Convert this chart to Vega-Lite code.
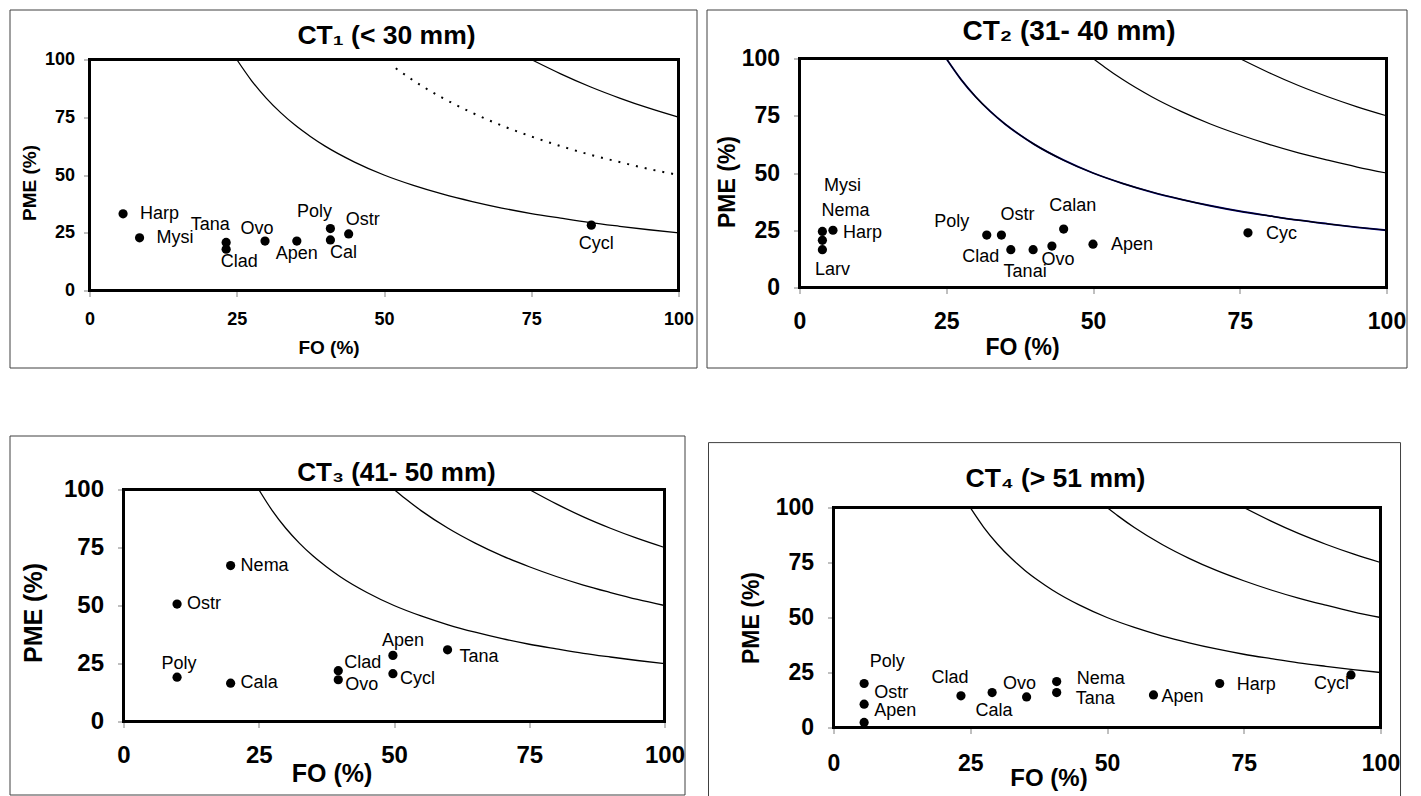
{
  "$schema": "https://vega.github.io/schema/vega-lite/v6.json",
  "background": "white",
  "padding": {"left": 8.5, "top": 8.5, "right": 0, "bottom": 0},
  "autosize": {"type": "pad"},
  "datasets": {
    "iso": [
      {"k": 2500, "fo": 25, "pme": 100}, {"k": 2500, "fo": 27.5, "pme": 90.9}, {"k": 2500, "fo": 30, "pme": 83.3},
      {"k": 2500, "fo": 32.5, "pme": 76.9}, {"k": 2500, "fo": 35, "pme": 71.4}, {"k": 2500, "fo": 37.5, "pme": 66.7},
      {"k": 2500, "fo": 40, "pme": 62.5}, {"k": 2500, "fo": 45, "pme": 55.6}, {"k": 2500, "fo": 50, "pme": 50},
      {"k": 2500, "fo": 55, "pme": 45.5}, {"k": 2500, "fo": 60, "pme": 41.7}, {"k": 2500, "fo": 65, "pme": 38.5},
      {"k": 2500, "fo": 70, "pme": 35.7}, {"k": 2500, "fo": 75, "pme": 33.3}, {"k": 2500, "fo": 80, "pme": 31.3},
      {"k": 2500, "fo": 85, "pme": 29.4}, {"k": 2500, "fo": 90, "pme": 27.8}, {"k": 2500, "fo": 95, "pme": 26.3},
      {"k": 2500, "fo": 100, "pme": 25},
      {"k": 5000, "fo": 50, "pme": 100}, {"k": 5000, "fo": 52, "pme": 96.2}, {"k": 5000, "fo": 55, "pme": 90.9},
      {"k": 5000, "fo": 60, "pme": 83.3}, {"k": 5000, "fo": 65, "pme": 76.9}, {"k": 5000, "fo": 70, "pme": 71.4},
      {"k": 5000, "fo": 75, "pme": 66.7}, {"k": 5000, "fo": 80, "pme": 62.5}, {"k": 5000, "fo": 85, "pme": 58.8},
      {"k": 5000, "fo": 90, "pme": 55.6}, {"k": 5000, "fo": 95, "pme": 52.6}, {"k": 5000, "fo": 100, "pme": 50},
      {"k": 7500, "fo": 75, "pme": 100}, {"k": 7500, "fo": 80, "pme": 93.8}, {"k": 7500, "fo": 85, "pme": 88.2},
      {"k": 7500, "fo": 90, "pme": 83.3}, {"k": 7500, "fo": 95, "pme": 78.9}, {"k": 7500, "fo": 100, "pme": 75}
    ],
    "ct1": [
      {"t": "Harp", "fo": 5.7, "pme": 33.2}, {"t": "Mysi", "fo": 8.5, "pme": 22.8},
      {"t": "Tana", "fo": 23.2, "pme": 20.8}, {"t": "Clad", "fo": 23.2, "pme": 17.9},
      {"t": "Ovo", "fo": 29.8, "pme": 21.4}, {"t": "Apen", "fo": 35.2, "pme": 21.4},
      {"t": "Poly", "fo": 40.9, "pme": 26.8}, {"t": "Cal", "fo": 40.9, "pme": 21.9},
      {"t": "Ostr", "fo": 44.0, "pme": 24.5}, {"t": "Cycl", "fo": 85.2, "pme": 28.3}
    ],
    "ct2": [
      {"t": "Mysi", "fo": 3.9, "pme": 24.5}, {"t": "Nema", "fo": 3.9, "pme": 20.6},
      {"t": "Larv", "fo": 3.9, "pme": 16.5}, {"t": "Harp", "fo": 5.7, "pme": 25.0},
      {"t": "Poly", "fo": 31.9, "pme": 22.9}, {"t": "Ostr", "fo": 34.4, "pme": 22.9},
      {"t": "Clad", "fo": 36.0, "pme": 16.5}, {"t": "Tanai", "fo": 39.8, "pme": 16.5},
      {"t": "Ovo", "fo": 43.0, "pme": 18.1}, {"t": "Calan", "fo": 45.0, "pme": 25.5},
      {"t": "Apen", "fo": 50.0, "pme": 18.9}, {"t": "Cyc", "fo": 76.4, "pme": 23.9}
    ],
    "ct3": [
      {"t": "Nema", "fo": 19.8, "pme": 67.2}, {"t": "Ostr", "fo": 9.9, "pme": 50.6},
      {"t": "Poly", "fo": 9.9, "pme": 19.1}, {"t": "Cala", "fo": 19.8, "pme": 16.5},
      {"t": "Clad", "fo": 39.7, "pme": 21.9}, {"t": "Ovo", "fo": 39.7, "pme": 18.0},
      {"t": "Apen", "fo": 49.8, "pme": 28.5}, {"t": "Cycl", "fo": 49.8, "pme": 20.6},
      {"t": "Tana", "fo": 59.9, "pme": 30.9}
    ],
    "ct4": [
      {"t": "Poly", "fo": 5.6, "pme": 20.0}, {"t": "Ostr", "fo": 5.6, "pme": 10.6},
      {"t": "Apen", "fo": 5.6, "pme": 2.3}, {"t": "Clad", "fo": 23.3, "pme": 14.4},
      {"t": "Cala", "fo": 29.0, "pme": 15.9}, {"t": "Ovo", "fo": 35.3, "pme": 13.9},
      {"t": "Nema", "fo": 40.8, "pme": 20.9}, {"t": "Tana", "fo": 40.8, "pme": 15.9},
      {"t": "Apen", "fo": 58.5, "pme": 14.8}, {"t": "Harp", "fo": 70.6, "pme": 20.0},
      {"t": "Cycl", "fo": 94.6, "pme": 23.9}
    ]
  },
  "spacing": 66,
  "vconcat": [
    {
      "spacing": 8,
      "hconcat": [
        {
          "width": 687, "height": 358,
          "title": {"text": "CT₁ (< 30 mm)", "fontSize": 26.5, "dx": 33.5, "offset": -40},
          "layer": [
            {
              "encoding": {
                "x": {"field": "fo", "type": "quantitative", "scale": {"domain": [0, 100], "range": [80, 669], "nice": false, "zero": false},
                      "axis": {"title": "FO (%)", "offset": -77, "values": [0, 25, 50, 75, 100], "labelFontSize": 18, "labelPadding": 14, "titleFontSize": 19, "titleX": 319, "titleY": 57}},
                "y": {"field": "pme", "type": "quantitative", "scale": {"domain": [0, 100], "range": [281, 50], "nice": false, "zero": false},
                      "axis": {"title": "PME (%)", "offset": -80, "values": [0, 25, 50, 75, 100], "labelFontSize": 18, "labelPadding": 9, "titleFontSize": 19, "titleX": -60, "titleY": 173, "titleAngle": -90}}
              },
              "layer": [
                {"data": {"name": "iso"}, "transform": [{"filter": "datum.k != 5000"}],
                 "mark": {"type": "line", "color": "black", "strokeWidth": 1.3, "interpolate": "monotone"}, "encoding": {"detail": {"field": "k"}}},
                {"data": {"name": "iso"}, "transform": [{"filter": "datum.k == 5000 && datum.fo >= 52"}],
                 "mark": {"type": "line", "color": "black", "strokeWidth": 2, "strokeDash": [2, 7], "interpolate": "monotone"}, "encoding": {"detail": {"field": "k"}}},
                {"data": {"name": "ct1"}, "layer": [
                  {"mark": {"type": "circle", "size": 85, "color": "black", "opacity": 1}},
                  {"transform": [{"filter": {"field": "t", "oneOf": ["Harp", "Mysi"]}}], "mark": {"type": "text", "align": "left", "dx": 17, "dy": 0}, "encoding": {"text": {"field": "t"}}},
                  {"transform": [{"filter": {"field": "t", "oneOf": ["Tana", "Poly"]}}], "mark": {"type": "text", "align": "center", "dx": -16, "dy": -17}, "encoding": {"text": {"field": "t"}}},
                  {"transform": [{"filter": {"field": "t", "oneOf": ["Clad", "Cal"]}}], "mark": {"type": "text", "align": "center", "dx": 13, "dy": 13}, "encoding": {"text": {"field": "t"}}},
                  {"transform": [{"filter": {"field": "t", "oneOf": ["Ostr"]}}], "mark": {"type": "text", "align": "center", "dx": 14, "dy": -14}, "encoding": {"text": {"field": "t"}}},
                  {"transform": [{"filter": {"field": "t", "oneOf": ["Ovo"]}}], "mark": {"type": "text", "align": "center", "dx": -8, "dy": -12}, "encoding": {"text": {"field": "t"}}},
                  {"transform": [{"filter": {"field": "t", "oneOf": ["Apen"]}}], "mark": {"type": "text", "align": "center", "dx": 0, "dy": 13}, "encoding": {"text": {"field": "t"}}},
                  {"transform": [{"filter": {"field": "t", "oneOf": ["Cycl"]}}], "mark": {"type": "text", "align": "center", "dx": 5, "dy": 19}, "encoding": {"text": {"field": "t"}}}
                ]}
              ]
            },
            {"data": {"values": [{}]}, "mark": {"type": "rect", "fill": "transparent", "stroke": "black", "strokeWidth": 3},
             "encoding": {"x": {"datum": 0}, "x2": {"datum": 100}, "y": {"datum": 0}, "y2": {"datum": 100}}}
          ]
        },
        {
          "width": 700, "height": 358,
          "title": {"text": "CT₂ (31- 40 mm)", "fontSize": 28, "dx": 12.5, "offset": -36.3},
          "layer": [
            {
              "encoding": {
                "x": {"field": "fo", "type": "quantitative", "scale": {"domain": [0, 100], "range": [93, 680], "nice": false, "zero": false},
                      "axis": {"title": "FO (%)", "offset": -80, "values": [0, 25, 50, 75, 100], "labelFontSize": 23, "labelPadding": 17, "titleFontSize": 23, "titleX": 315.5, "titleY": 60}},
                "y": {"field": "pme", "type": "quantitative", "scale": {"domain": [0, 100], "range": [278, 49], "nice": false, "zero": false},
                      "axis": {"title": "PME (%)", "offset": -93, "values": [0, 25, 50, 75, 100], "labelFontSize": 23, "labelPadding": 14, "titleFontSize": 23, "titleX": -72, "titleY": 172, "titleAngle": -90}}
              },
              "layer": [
                {"data": {"name": "iso"}, "transform": [{"filter": "datum.k == 2500"}],
                 "mark": {"type": "line", "color": "#000080", "strokeWidth": 1.8, "interpolate": "monotone"}, "encoding": {"detail": {"field": "k"}}},
                {"data": {"name": "iso"},
                 "mark": {"type": "line", "color": "black", "strokeWidth": 1.2, "interpolate": "monotone"}, "encoding": {"detail": {"field": "k"}}},
                {"data": {"name": "ct2"}, "layer": [
                  {"mark": {"type": "circle", "size": 85, "color": "black", "opacity": 1}},
                  {"transform": [{"filter": {"field": "t", "oneOf": ["Mysi"]}}], "mark": {"type": "text", "align": "center", "dx": 20, "dy": -45}, "encoding": {"text": {"field": "t"}}},
                  {"transform": [{"filter": {"field": "t", "oneOf": ["Nema"]}}], "mark": {"type": "text", "align": "center", "dx": 23, "dy": -29}, "encoding": {"text": {"field": "t"}}},
                  {"transform": [{"filter": {"field": "t", "oneOf": ["Harp"]}}], "mark": {"type": "text", "align": "left", "dx": 10, "dy": 3}, "encoding": {"text": {"field": "t"}}},
                  {"transform": [{"filter": {"field": "t", "oneOf": ["Larv"]}}], "mark": {"type": "text", "align": "center", "dx": 10, "dy": 20}, "encoding": {"text": {"field": "t"}}},
                  {"transform": [{"filter": {"field": "t", "oneOf": ["Poly"]}}], "mark": {"type": "text", "align": "center", "dx": -35, "dy": -13}, "encoding": {"text": {"field": "t"}}},
                  {"transform": [{"filter": {"field": "t", "oneOf": ["Ostr"]}}], "mark": {"type": "text", "align": "center", "dx": 16, "dy": -20}, "encoding": {"text": {"field": "t"}}},
                  {"transform": [{"filter": {"field": "t", "oneOf": ["Calan"]}}], "mark": {"type": "text", "align": "center", "dx": 9, "dy": -23}, "encoding": {"text": {"field": "t"}}},
                  {"transform": [{"filter": {"field": "t", "oneOf": ["Clad"]}}], "mark": {"type": "text", "align": "center", "dx": -30, "dy": 7}, "encoding": {"text": {"field": "t"}}},
                  {"transform": [{"filter": {"field": "t", "oneOf": ["Tanai"]}}], "mark": {"type": "text", "align": "center", "dx": -8, "dy": 22}, "encoding": {"text": {"field": "t"}}},
                  {"transform": [{"filter": {"field": "t", "oneOf": ["Ovo"]}}], "mark": {"type": "text", "align": "center", "dx": 6, "dy": 14}, "encoding": {"text": {"field": "t"}}},
                  {"transform": [{"filter": {"field": "t", "oneOf": ["Apen", "Cyc"]}}], "mark": {"type": "text", "align": "left", "dx": 18, "dy": 1}, "encoding": {"text": {"field": "t"}}}
                ]}
              ]
            },
            {"data": {"values": [{}]}, "mark": {"type": "rect", "fill": "transparent", "stroke": "black", "strokeWidth": 3},
             "encoding": {"x": {"datum": 0}, "x2": {"datum": 100}, "y": {"datum": 0}, "y2": {"datum": 100}}}
          ]
        }
      ]
    },
    {
      "spacing": 22,
      "hconcat": [
        {
          "width": 675, "height": 359,
          "title": {"text": "CT₃ (41- 50 mm)", "fontSize": 26, "dx": 49.5, "offset": -50},
          "layer": [
            {
              "encoding": {
                "x": {"field": "fo", "type": "quantitative", "scale": {"domain": [0, 100], "range": [114, 655], "nice": false, "zero": false},
                      "axis": {"title": "FO (%)", "offset": -73, "values": [0, 25, 50, 75, 100], "labelFontSize": 24, "labelPadding": 15.5, "titleFontSize": 25, "titleX": 322, "titleY": 52}},
                "y": {"field": "pme", "type": "quantitative", "scale": {"domain": [0, 100], "range": [286, 54], "nice": false, "zero": false},
                      "axis": {"title": "PME (%)", "offset": -114, "values": [0, 25, 50, 75, 100], "labelFontSize": 24, "labelPadding": 14, "titleFontSize": 25, "titleX": -90, "titleY": 177, "titleAngle": -90}}
              },
              "layer": [
                {"data": {"name": "iso"},
                 "mark": {"type": "line", "color": "black", "strokeWidth": 1.3, "interpolate": "monotone"}, "encoding": {"detail": {"field": "k"}}},
                {"data": {"name": "ct3"}, "layer": [
                  {"mark": {"type": "circle", "size": 85, "color": "black", "opacity": 1}},
                  {"transform": [{"filter": {"field": "t", "oneOf": ["Nema", "Ostr", "Cala"]}}], "mark": {"type": "text", "align": "left", "dx": 10, "dy": 0}, "encoding": {"text": {"field": "t"}}},
                  {"transform": [{"filter": {"field": "t", "oneOf": ["Poly"]}}], "mark": {"type": "text", "align": "center", "dx": 2, "dy": -13}, "encoding": {"text": {"field": "t"}}},
                  {"transform": [{"filter": {"field": "t", "oneOf": ["Apen"]}}], "mark": {"type": "text", "align": "center", "dx": 10, "dy": -14}, "encoding": {"text": {"field": "t"}}},
                  {"transform": [{"filter": {"field": "t", "oneOf": ["Clad"]}}], "mark": {"type": "text", "align": "left", "dx": 6, "dy": -8}, "encoding": {"text": {"field": "t"}}},
                  {"transform": [{"filter": {"field": "t", "oneOf": ["Ovo", "Cycl"]}}], "mark": {"type": "text", "align": "left", "dx": 7, "dy": 5}, "encoding": {"text": {"field": "t"}}},
                  {"transform": [{"filter": {"field": "t", "oneOf": ["Tana"]}}], "mark": {"type": "text", "align": "left", "dx": 12, "dy": 7}, "encoding": {"text": {"field": "t"}}}
                ]}
              ]
            },
            {"data": {"values": [{}]}, "mark": {"type": "rect", "fill": "transparent", "stroke": "black", "strokeWidth": 3},
             "encoding": {"x": {"datum": 0}, "x2": {"datum": 100}, "y": {"datum": 0}, "y2": {"datum": 100}}}
          ]
        },
        {
          "width": 692, "height": 362,
          "view": {"stroke": null},
          "title": {"text": "CT₄ (> 51 mm)", "fontSize": 26.5, "dx": 1, "offset": -56.5},
          "layer": [
            {"data": {"values": [{}]}, "mark": {"type": "rect", "fill": "transparent", "stroke": "#404040", "strokeWidth": 1},
             "encoding": {"x": {"datum": -22.85}, "x2": {"datum": 103.66}, "y": {"datum": 129.5}, "y2": {"datum": -31.8}}},
            {
              "encoding": {
                "x": {"field": "fo", "type": "quantitative", "scale": {"domain": [0, 100], "range": [125, 672], "nice": false, "zero": false},
                      "axis": {"title": "FO (%)", "offset": -70, "values": [0, 25, 50, 75, 100], "labelFontSize": 23, "labelPadding": 19, "titleFontSize": 24, "titleX": 340, "titleY": 51}},
                "y": {"field": "pme", "type": "quantitative", "scale": {"domain": [0, 100], "range": [292, 72], "nice": false, "zero": false},
                      "axis": {"title": "PME (%)", "offset": -125, "values": [0, 25, 50, 75, 100], "labelFontSize": 23, "labelPadding": 14, "titleFontSize": 23, "titleX": -82, "titleY": 182, "titleAngle": -90}}
              },
              "layer": [
                {"data": {"name": "iso"},
                 "mark": {"type": "line", "color": "black", "strokeWidth": 1.3, "interpolate": "monotone"}, "encoding": {"detail": {"field": "k"}}},
                {"data": {"name": "ct4"}, "layer": [
                  {"mark": {"type": "circle", "size": 85, "color": "black", "opacity": 1}},
                  {"transform": [{"filter": {"field": "t", "oneOf": ["Poly"]}}], "mark": {"type": "text", "align": "center", "dx": 23, "dy": -22}, "encoding": {"text": {"field": "t"}}},
                  {"transform": [{"filter": "datum.t == 'Ostr' || (datum.t == 'Apen' && datum.fo < 10)"}], "mark": {"type": "text", "align": "left", "dx": 10, "dy": -11}, "encoding": {"text": {"field": "t"}}},
                  {"transform": [{"filter": {"field": "t", "oneOf": ["Clad"]}}], "mark": {"type": "text", "align": "center", "dx": -11, "dy": -18}, "encoding": {"text": {"field": "t"}}},
                  {"transform": [{"filter": {"field": "t", "oneOf": ["Ovo"]}}], "mark": {"type": "text", "align": "center", "dx": -7, "dy": -13}, "encoding": {"text": {"field": "t"}}},
                  {"transform": [{"filter": {"field": "t", "oneOf": ["Cala"]}}], "mark": {"type": "text", "align": "center", "dx": 2, "dy": 18}, "encoding": {"text": {"field": "t"}}},
                  {"transform": [{"filter": {"field": "t", "oneOf": ["Nema"]}}], "mark": {"type": "text", "align": "left", "dx": 20, "dy": -3}, "encoding": {"text": {"field": "t"}}},
                  {"transform": [{"filter": {"field": "t", "oneOf": ["Tana"]}}], "mark": {"type": "text", "align": "left", "dx": 19, "dy": 6}, "encoding": {"text": {"field": "t"}}},
                  {"transform": [{"filter": "datum.t == 'Apen' && datum.fo > 10"}], "mark": {"type": "text", "align": "left", "dx": 8, "dy": 2}, "encoding": {"text": {"field": "t"}}},
                  {"transform": [{"filter": {"field": "t", "oneOf": ["Harp"]}}], "mark": {"type": "text", "align": "left", "dx": 17, "dy": 1}, "encoding": {"text": {"field": "t"}}},
                  {"transform": [{"filter": {"field": "t", "oneOf": ["Cycl"]}}], "mark": {"type": "text", "align": "right", "dx": -2, "dy": 9}, "encoding": {"text": {"field": "t"}}}
                ]}
              ]
            },
            {"data": {"values": [{}]}, "mark": {"type": "rect", "fill": "transparent", "stroke": "black", "strokeWidth": 3},
             "encoding": {"x": {"datum": 0}, "x2": {"datum": 100}, "y": {"datum": 0}, "y2": {"datum": 100}}}
          ]
        }
      ]
    }
  ],
  "config": {
    "view": {"stroke": "#404040", "strokeWidth": 1},
    "axis": {"grid": false, "domain": false, "tickColor": "#808080", "tickSize": 6, "tickWidth": 1,
             "labelFont": "Liberation Sans", "labelFontWeight": "bold", "labelColor": "black",
             "titleFont": "Liberation Sans", "titleFontWeight": "bold", "titleColor": "black",
             "labelFlush": false, "labelOverlap": false, "titleAlign": "center", "titleBaseline": "middle"},
    "title": {"font": "Liberation Sans", "fontWeight": "bold", "color": "black", "anchor": "middle", "frame": "group", "baseline": "alphabetic"},
    "text": {"font": "Liberation Sans", "fontSize": 18, "baseline": "middle", "color": "black"}
  }
}
